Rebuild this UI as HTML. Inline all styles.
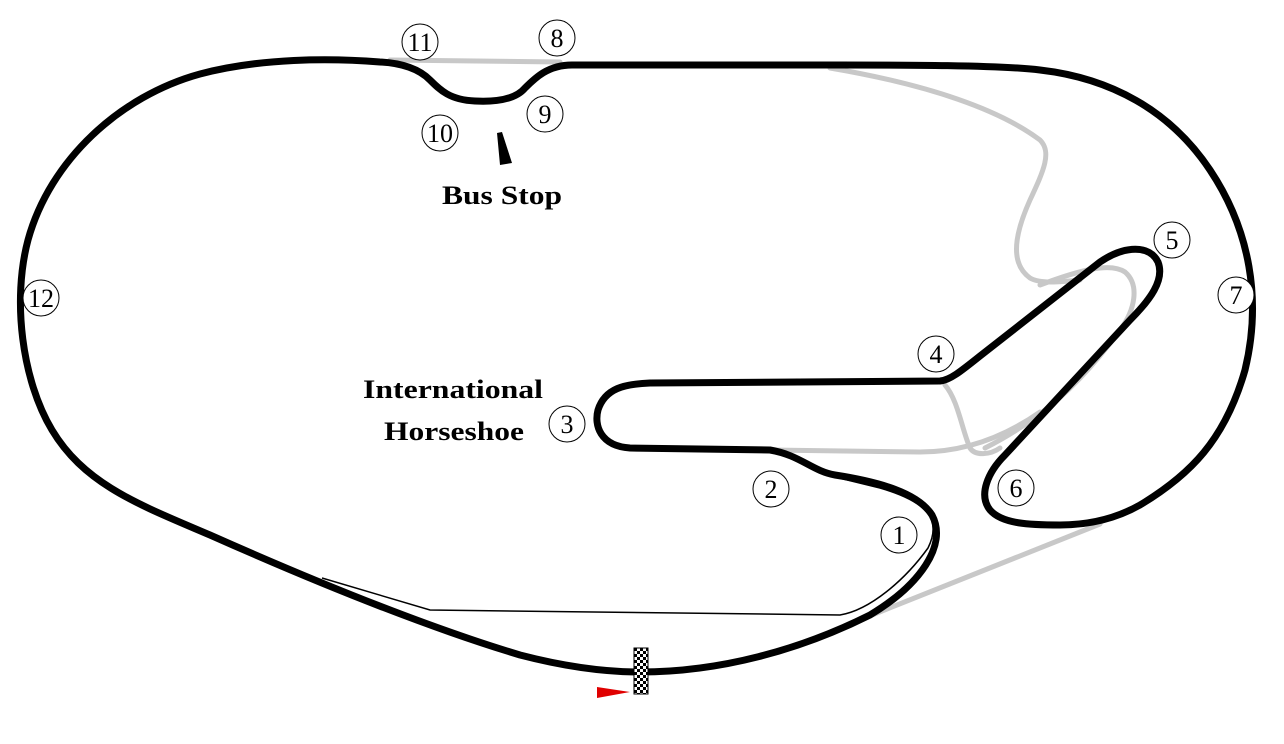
<!DOCTYPE html>
<html><head><meta charset="utf-8"><style>
html,body{margin:0;padding:0;background:#fff;width:1284px;height:744px;overflow:hidden}
svg{display:block}
text{font-family:"Liberation Serif",serif;fill:#000}
</style></head><body>
<svg width="1284" height="744" viewBox="0 0 1284 744">
<defs>
<pattern id="chk" width="6" height="6" patternUnits="userSpaceOnUse" x="634" y="648">
<rect width="6" height="6" fill="#fff"/><rect width="3" height="3" fill="#000"/><rect x="3" y="3" width="3" height="3" fill="#000"/>
</pattern>
</defs>
<g fill="none" stroke="#c8c8c8" stroke-width="5" stroke-linecap="round" stroke-linejoin="round">
<path d="M390,60 L560,62"/>
<path d="M830,68 C930,85 1000,110 1040,140 C1052,152 1044,170 1030,200 C1012,240 1012,265 1030,278 C1040,284 1060,282 1080,280"/>
<path d="M1040,285 C1080,270 1110,262 1125,272 C1140,285 1135,310 1120,330 C1080,385 1040,420 985,448"/>
<path d="M945,385 C958,400 962,430 970,448 C975,456 990,455 1000,448"/>
<path d="M770,450 L920,452 C960,452 1000,440 1040,412"/>
<path d="M872,615 L1100,524"/>
</g>
<path d="M322,578 L430,610 L840,615 C870,610 905,580 928,548 C942,520 928,502 880,488 L835,477 C815,472 800,459 780,453" fill="none" stroke="#000" stroke-width="1.5"/>
<path d="M640,672 C720,672 800,650 870,615 C920,585 948,545 932,515 C918,493 880,482 835,475 C812,471 800,455 770,450 L630,448 C600,446 594,425 598,410 C605,388 625,384 650,383 L940,381 C950,380 960,372 980,356 L1100,262 C1125,245 1150,245 1158,262 C1165,280 1150,300 1130,320 L1005,455 C988,472 978,495 990,510 C1002,524 1030,525 1060,525 C1080,525 1110,522 1140,505 C1190,475 1225,440 1245,370 C1262,300 1250,230 1210,170 C1170,110 1110,78 1040,70 C1000,65 900,65 840,65 L572,65 C548,65 535,78 525,88 C515,100 495,102 475,101 C450,100 440,90 430,80 C418,68 400,63 380,62 C330,58 260,58 200,74 C120,96 50,160 28,240 C12,300 22,380 52,430 C85,485 140,505 210,535 C300,575 420,625 520,655 C570,668 610,672 640,672 Z" fill="none" stroke="#000" stroke-width="7" stroke-linejoin="round"/>
<rect x="634" y="648" width="14" height="46" fill="url(#chk)" stroke="#000" stroke-width="1"/>
<polygon points="597,687 630,692 597,698" fill="#e00000"/>
<polygon points="497,133 502,132 512,163 500,165" fill="#000"/>
<g fill="#fff" stroke="#000" stroke-width="1">
<circle cx="420" cy="42" r="18"/><circle cx="557" cy="38" r="18"/><circle cx="545" cy="114" r="18"/><circle cx="440" cy="133" r="18"/>
<circle cx="1172" cy="240" r="18"/><circle cx="1236" cy="295" r="18"/><circle cx="936" cy="354" r="18"/><circle cx="567" cy="424" r="18"/>
<circle cx="1016" cy="488" r="18"/><circle cx="771" cy="489" r="18"/><circle cx="899" cy="535" r="18"/><circle cx="41" cy="298" r="18"/>
</g>
<g font-size="26" text-anchor="middle">
<text x="420" y="51">11</text><text x="557" y="47">8</text><text x="545" y="123">9</text><text x="440" y="142">10</text>
<text x="1172" y="249">5</text><text x="1236" y="304">7</text><text x="936" y="363">4</text><text x="567" y="433">3</text>
<text x="1016" y="497">6</text><text x="771" y="498">2</text><text x="899" y="544">1</text><text x="41" y="307">12</text>
</g>
<g font-size="26" font-weight="bold">
<text x="442" y="204" textLength="120" lengthAdjust="spacingAndGlyphs">Bus Stop</text>
<text x="363" y="398" textLength="180" lengthAdjust="spacingAndGlyphs">International</text>
<text x="384" y="440" textLength="140" lengthAdjust="spacingAndGlyphs">Horseshoe</text>
</g>
</svg>
</body></html>
